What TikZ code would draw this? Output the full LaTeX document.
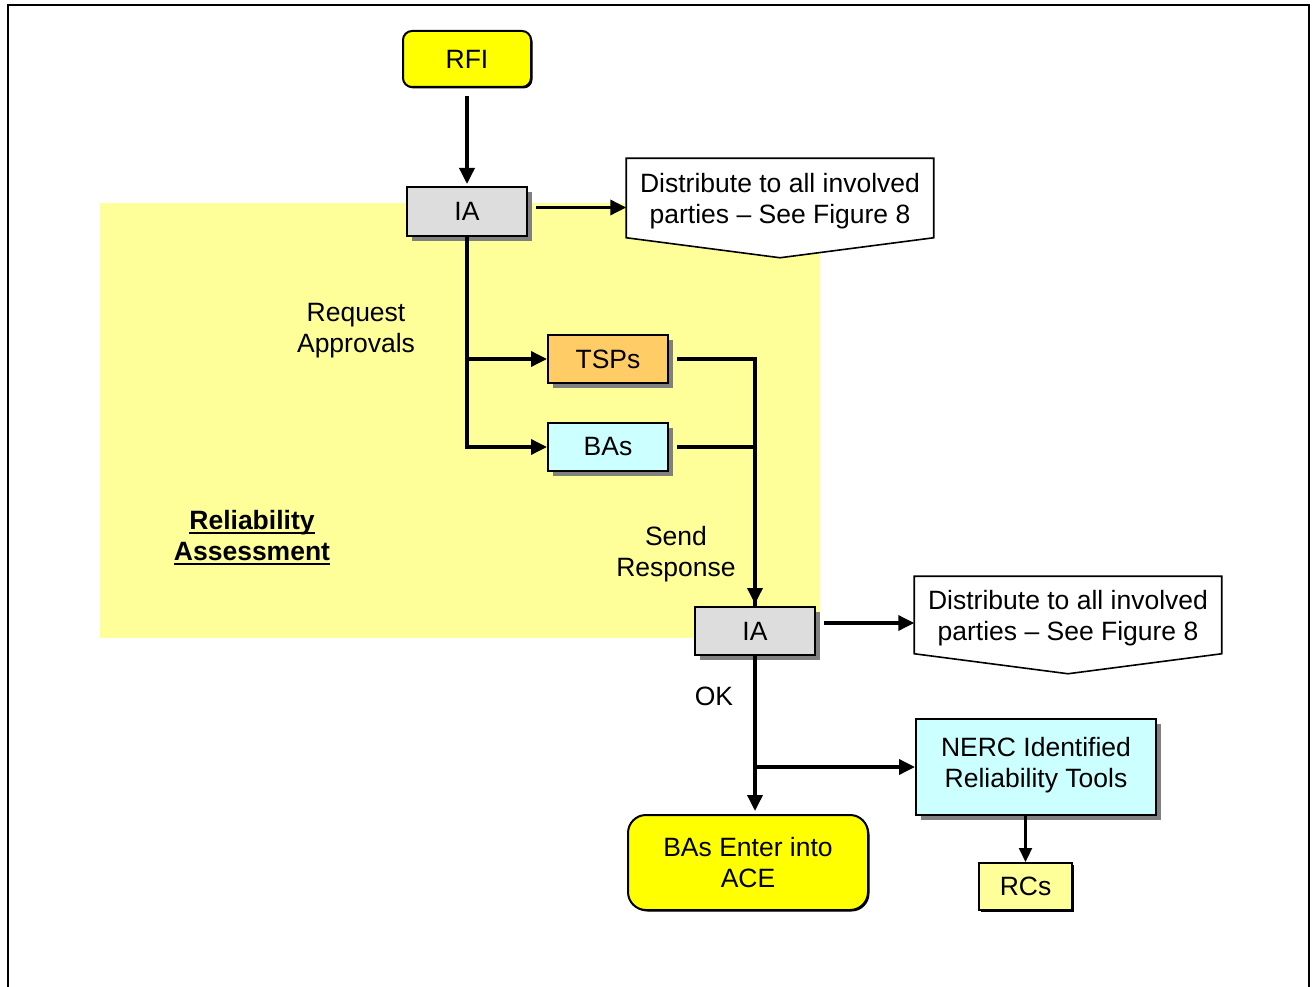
\documentclass[tikz,border=0pt]{standalone}
\usepackage{fontspec}
\setmainfont{Liberation Sans}
\usetikzlibrary{arrows.meta,shadows,backgrounds}
\definecolor{paleyel}{HTML}{FFFF99}
\definecolor{brtyel}{HTML}{FFFF00}
\definecolor{iagray}{HTML}{DDDDDD}
\definecolor{tspor}{HTML}{FFCC66}
\definecolor{bacyan}{HTML}{CCFFFF}
\definecolor{shade}{HTML}{808080}
\newcommand\bolduline[1]{\setbox0\hbox{#1}\rlap{\rule[-4.5pt]{\wd0}{2.6pt}}\box0}
\tikzset{fc/.style={x=1pt,y=-1pt,line width=3.5pt,font=\fontsize{26.5}{31}\selectfont},
  bx/.style={draw,line width=2pt,inner sep=0pt,align=center,drop shadow={shadow xshift=5pt,shadow yshift=-5pt,fill=shade,opacity=1}},
  rbx/.style={draw,line width=2pt,inner sep=0pt,align=center,drop shadow={shadow xshift=1.5pt,shadow yshift=-1.5pt,fill=black,opacity=1}},
  arr/.style={-{Triangle[length=16pt,width=15pt]}},
  arrs/.style={line width=2.2pt,-{Triangle[length=14pt,width=13pt]}},
  dst/.style={inner sep=0pt,minimum width=304pt,align=center},
  dstline/.style={draw,fill=white,line width=1.6pt}}

\begin{document}
\begin{tikzpicture}[fc]
  \useasboundingbox (0,0) rectangle (1314,987);
  \begin{scope}[on background layer]
    \fill[paleyel] (100,203) rectangle (820,638);
  \end{scope}
  \draw[line width=2pt] (8,992)--(8,5)--(1309,5)--(1309,992);
  \node[rbx,fill=brtyel,rounded corners=9pt,minimum width=128pt,minimum height=56pt] (rfi) at (467,59) {RFI};
  \node[bx,fill=iagray,minimum width=120pt,minimum height=49pt] (ia1) at (467,211.5) {IA};
  \node[bx,fill=tspor,minimum width=120pt,minimum height=48pt] (tsps) at (608,359) {TSPs};
  \node[bx,fill=bacyan,minimum width=120pt,minimum height=48pt] (bas) at (608,447) {BAs};
  \node[bx,fill=iagray,minimum width=120pt,minimum height=48pt] (ia2) at (755,631) {IA};
  \node[bx,fill=bacyan,minimum width=240pt,minimum height=96pt] (nerc) at (1036,767) {NERC Identified\\Reliability Tools\\[-22pt]};
  \node[rbx,fill=paleyel,minimum width=93pt,minimum height=47pt] (rcs) at (1025.5,886.5) {RCs};
  \node[rbx,fill=brtyel,rounded corners=18pt,minimum width=240pt,minimum height=95pt] (ace) at (748,862.5) {BAs Enter into\\ACE};
  \node[dst,minimum height=86pt] (dis1) at (780,201) {Distribute to all involved\\parties -- See Figure 8};
  \node[dst,minimum height=84pt] (dis2) at (1068,618) {Distribute to all involved\\parties -- See Figure 8};
  \begin{scope}[on background layer]
    \foreach \d in {dis1,dis2}{\path[dstline] ([yshift=-2pt]\d.north west)--([yshift=-2pt]\d.north east)--([yshift=8pt]\d.south east)--([yshift=-12pt]\d.south)--([yshift=8pt]\d.south west)--cycle;}
  \end{scope}
  \node[align=center] (reqlbl) at (356,331) {Request\\Approvals};
  \node[align=center] (sndlbl) at (676,554) {Send\\Response};
  \node (oklbl) at (714,696) {OK};
  \node[align=center,font=\fontsize{26.5}{31}\selectfont\bfseries] (ralbl) at (252,538) {\bolduline{Reliability}\\\bolduline{Assessment}};
  \draw[arr,shorten <=8pt,shorten >=2pt] (rfi) -- (ia1);
  \draw[arr,shorten <=8pt] ([yshift=4pt]ia1.east) -- ([yshift=4pt]ia1.east -| dis1.west);
  \draw[arr] (ia1) |- (tsps);
  \draw[arr] (ia1) |- (bas);
  \draw[arr,shorten <=8pt,shorten >=2pt] (tsps) -| (ia2);
  \draw[shorten <=8pt] (bas) -| (ia2);
  \draw[arr,shorten <=8pt] ([yshift=8pt]ia2.east) -- ([yshift=8pt]ia2.east -| dis2.west);
  \draw[arr,shorten >=3pt] (ia2) -- (ia2 |- ace.north);
  \coordinate (jn) at (ia2 |- nerc);
  \draw[arr] (jn) -- (nerc);
  \draw[arrs] (rcs |- nerc.south) -- (rcs);
\end{tikzpicture}
\end{document}
